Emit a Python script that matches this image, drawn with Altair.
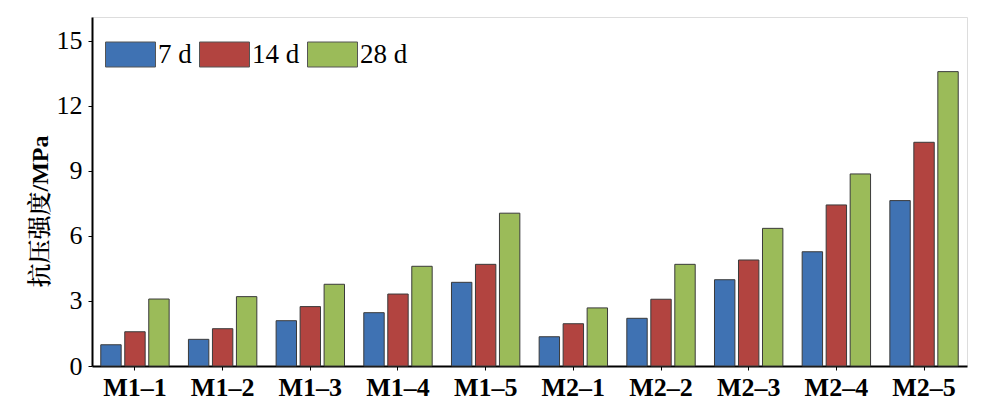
import altair as alt
import pandas as pd

categories = ["M1–1", "M1–2", "M1–3", "M1–4", "M1–5",
              "M2–1", "M2–2", "M2–3", "M2–4", "M2–5"]
ages = ["7 d", "14 d", "28 d"]
v7 = [0.98, 1.23, 2.09, 2.46, 3.86, 1.35, 2.20, 3.98, 5.27, 7.63]
v14 = [1.58, 1.72, 2.74, 3.32, 4.69, 1.95, 3.08, 4.89, 7.43, 10.32]
v28 = [3.09, 3.20, 3.77, 4.60, 7.05, 2.68, 4.69, 6.35, 8.86, 13.58]
colors = ["#3f72b3", "#b24440", "#9bbb59"]

rows = []
for series_name, vals in zip(ages, [v7, v14, v28]):
    for c, v in zip(categories, vals):
        rows.append({"sample": c, "age": series_name, "value": v})
df = pd.DataFrame(rows)

serif = "Liberation Serif, Noto Serif CJK SC, Noto Sans CJK SC"

bars = alt.Chart(df).mark_bar(stroke="#3a3a3a", strokeWidth=1).encode(
    x=alt.X("sample:N", sort=categories,
            scale=alt.Scale(paddingInner=0.22, paddingOuter=0.1),
            axis=alt.Axis(title=None, labelAngle=0, labelFont=serif,
                          labelFontSize=26, labelColor="black",
                          labelFontWeight=600,
                          labelPadding=4, tickSize=4, tickColor="black",
                          domainColor="black", domainWidth=2)),
    xOffset=alt.XOffset("age:N", sort=ages,
                        scale=alt.Scale(paddingInner=0.15)),
    y=alt.Y("value:Q", scale=alt.Scale(domain=[0, 16.1], nice=False),
            axis=alt.Axis(title="抗压强度/MPa", values=[0, 3, 6, 9, 12, 15],
                          grid=False, labelFont=serif, labelFontSize=26,
                          labelColor="black", labelPadding=6, tickSize=4,
                          tickColor="black", domainColor="black",
                          domainWidth=2, titleFont=serif, titleFontSize=24,
                          titleFontWeight=600, titleColor="black",
                          titlePadding=4, titleY=194)),
    color=alt.Color("age:N", sort=ages,
                    scale=alt.Scale(domain=ages, range=colors),
                    legend=alt.Legend(title=None, orient="none",
                                      legendX=13, legendY=12,
                                      direction="horizontal",
                                      symbolType="M-1,-0.5H1V0.5H-1Z",
                                      symbolSize=2500,
                                      symbolStrokeColor="#555555",
                                      symbolStrokeWidth=1,
                                      symbolOpacity=1,
                                      labelFont=serif, labelFontSize=27,
                                      labelColor="black", labelOffset=2,
                                      columnPadding=5)),
)

chart = bars.properties(
    width=875, height=349,
    autosize=alt.AutoSizeParams(type="none"),
    padding={"left": 84, "top": 9, "right": 11, "bottom": 34},
).configure_view(stroke="black", strokeWidth=1.5).configure(background="white")

chart.save("out.html", embed_options={"renderer": "svg", "actions": False})
